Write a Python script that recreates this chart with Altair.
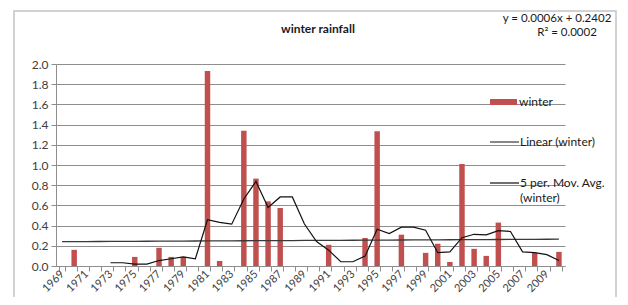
import altair as alt
import pandas as pd

years = list(range(1969, 2011))
winter = [0, 0.16, 0, 0, 0, 0, 0.09, 0, 0.18, 0.09, 0.09, 0, 1.93, 0.05, 0,
          1.34, 0.865, 0.64, 0.574, 0, 0, 0, 0.21, 0, 0, 0.277, 1.333, 0,
          0.31, 0, 0.13, 0.22, 0.04, 1.01, 0.17, 0.10, 0.43, 0, 0, 0.13, 0, 0.14]
y_ticks = [0.0, 0.2, 0.4, 0.6, 0.8, 1.0, 1.2, 1.4, 1.6, 1.8, 2.0]
trend_slope = 0.0006
trend_intercept = 0.2402
title_text = "winter rainfall"
eq_lines = ["y = 0.0006x + 0.2402", "R² = 0.0002"]
legend_labels = ["winter", "Linear (winter)", "5 per. Mov. Avg.", "(winter)"]

df = pd.DataFrame({"year": years, "winter": winter})

FONT = "Lato"
RED = "#c0504d"
GRID = "#8e8e8e"

xscale = alt.Scale(domain=years, paddingInner=0.55, paddingOuter=0.275)
yscale = alt.Scale(domain=[0, 2], nice=False, zero=True)

xaxis = alt.Axis(
    title=None, labelAngle=-45, labelAlign="right", labelBaseline="middle",
    labelExpr="datum.value % 2 == 1 ? datum.label : ''",
    tickBand="extent", tickSize=5, tickColor=GRID, domainColor=GRID,
    labelFont=FONT, labelFontSize=11, labelColor="#404040", labelPadding=1,
    grid=False, labelOverlap=False,
)
yaxis = alt.Axis(
    title=None, values=y_ticks, format=".1f", labelOverlap=False,
    grid=True, gridColor=GRID, gridWidth=1, domainColor=GRID, tickColor=GRID,
    tickSize=5, labelFont=FONT, labelFontSize=12, labelColor="#404040",
    labelPadding=3,
)

base = alt.Chart(df)

bars = base.transform_filter("datum.winter > 0").mark_bar(color=RED).encode(
    x=alt.X("year:O", scale=xscale, axis=xaxis),
    y=alt.Y("winter:Q", scale=yscale, axis=yaxis),
)

trend = base.transform_calculate(
    trend=f"{trend_slope} * (datum.year - {years[0] - 1}) + {trend_intercept}"
).mark_line(color="#3a3a3a", strokeWidth=1.3).encode(
    x=alt.X("year:O", scale=xscale, axis=xaxis),
    y=alt.Y("trend:Q", scale=yscale, axis=yaxis),
)

ma = base.transform_window(
    ma="mean(winter)", n="count()", frame=[-4, 0], sort=[{"field": "year"}]
).transform_filter("datum.n == 5").mark_line(color="#111111", strokeWidth=1.2).encode(
    x=alt.X("year:O", scale=xscale, axis=xaxis),
    y=alt.Y("ma:Q", scale=yscale, axis=yaxis),
)

# outer frame
frame = alt.Chart(pd.DataFrame({"a": [0]})).mark_rect(
    fill=None, stroke="#c4c4c4", strokeWidth=1.5
).encode(x=alt.value(-42), x2=alt.value(560), y=alt.value(-53), y2=alt.value(260))

title = alt.Chart(pd.DataFrame({"t": [title_text]})).mark_text(
    font=FONT, fontSize=12, fontWeight="bold", color="#1a1a1a", align="center", baseline="middle"
).encode(text="t:N", x=alt.value(262), y=alt.value(-35))

eq1 = alt.Chart(pd.DataFrame({"t": [eq_lines[0]]})).mark_text(
    font=FONT, fontSize=11.5, color="#1a1a1a", align="center", baseline="middle"
).encode(text="t:N", x=alt.value(501), y=alt.value(-45))
eq2 = alt.Chart(pd.DataFrame({"t": [eq_lines[1]]})).mark_text(
    font=FONT, fontSize=11.5, color="#1a1a1a", align="center", baseline="middle"
).encode(text="t:N", x=alt.value(511), y=alt.value(-31))

leg_bar = alt.Chart(pd.DataFrame({"a": [0]})).mark_rect(color=RED).encode(
    x=alt.value(434), x2=alt.value(461), y=alt.value(35), y2=alt.value(41)
)
leg_l1 = alt.Chart(pd.DataFrame({"a": [0]})).mark_rule(color="#3a3a3a", strokeWidth=1.2).encode(
    x=alt.value(434), x2=alt.value(463), y=alt.value(78)
)
leg_l2 = alt.Chart(pd.DataFrame({"a": [0]})).mark_rule(color="#111111", strokeWidth=1.2).encode(
    x=alt.value(434), x2=alt.value(463), y=alt.value(119)
)

def ltext(s, x, y):
    return alt.Chart(pd.DataFrame({"t": [s]})).mark_text(
        font=FONT, fontSize=12, color="#1a1a1a", align="left", baseline="middle"
    ).encode(text="t:N", x=alt.value(x), y=alt.value(y))

leg_t = (ltext(legend_labels[0], 463, 38) + ltext(legend_labels[1], 464, 78)
         + ltext(legend_labels[2], 464, 119) + ltext(legend_labels[3], 464, 134))

chart = alt.layer(
    frame, bars, trend, ma, title, eq1, eq2, leg_bar, leg_l1, leg_l2, leg_t
).properties(
    width=509, height=202,
    autosize=alt.AutoSizeParams(type="none"),
    padding={"left": 48, "top": 56, "right": 55, "bottom": 31},
    background="white",
).configure_view(stroke=None)

chart.save("out.html", embed_options={"renderer": "svg", "actions": False})
